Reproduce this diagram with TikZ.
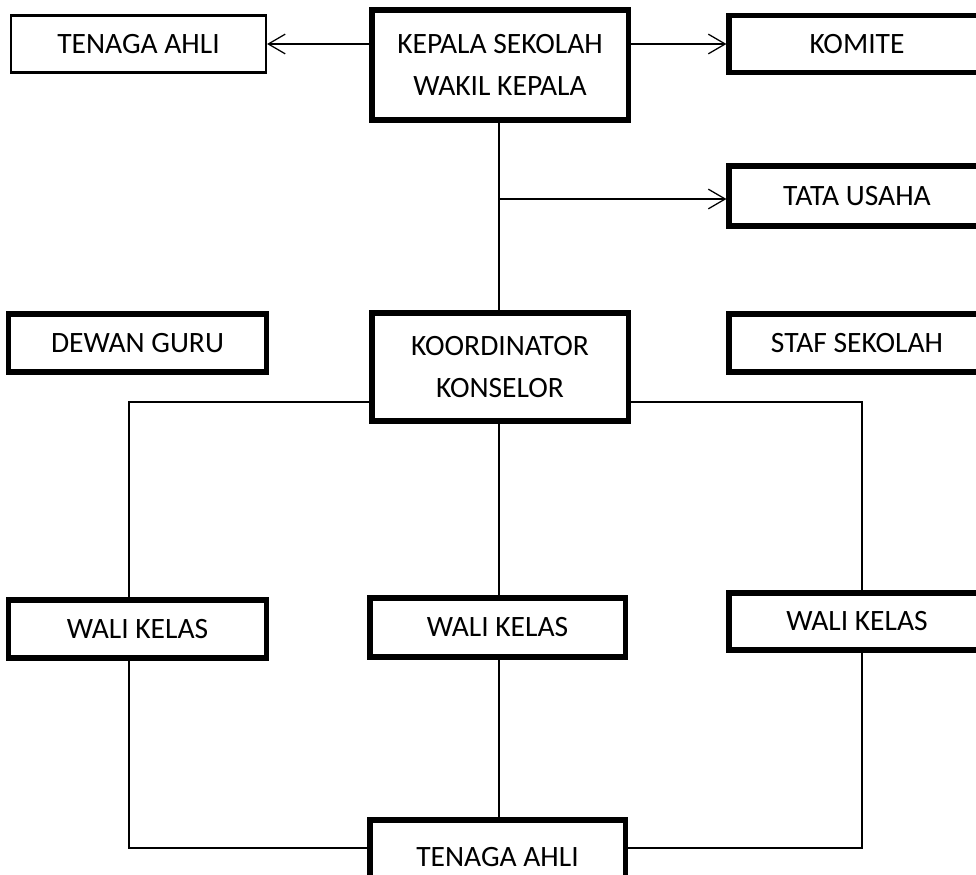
\documentclass[tikz,border=0pt]{standalone}
\usepackage{fontspec}
\setmainfont{Carlito}
\usetikzlibrary{arrows.meta, positioning}

\tikzset{
  kotak/.style={draw, line width=1.5pt, align=center, inner sep=2pt},
  kotaktebal/.style={kotak, line width=3.6pt},
  garis/.style={line width=0.9pt},
  panah/.style={garis, -{Straight Barb[length=12pt, width=14pt, line width=0.9pt]}}
}

\begin{document}
\begin{tikzpicture}[x=0.025cm, y=-0.025cm, font=\fontsize{21}{29.5}\selectfont]
    \useasboundingbox (0,0) rectangle (976,875);
    \clip (0,0) rectangle (976,875);

    % baris atas
    \node[kotak, minimum width=6.375cm, minimum height=1.425cm] (ahliatas) at (138.5,44) {TENAGA AHLI};
    \node[kotaktebal, minimum width=6.4cm, minimum height=2.75cm] (kepala) at (500,65) {KEPALA SEKOLAH\\WAKIL KEPALA};
    \node[kotaktebal, minimum width=6.4cm, minimum height=1.425cm] (komite) at (857,44) {KOMITE};
    \node[kotaktebal, minimum width=6.4cm, minimum height=1.5cm] (tatausaha) at (857,196) {TATA USAHA};

    % baris tengah
    \node[kotaktebal, minimum width=6.425cm, minimum height=1.45cm] (dewan) at (137.5,343) {DEWAN GURU};
    \node[kotaktebal, minimum width=6.4cm, minimum height=2.7cm] (koordinator) at (500,367) {KOORDINATOR\\KONSELOR};
    \node[kotaktebal, minimum width=6.4cm, minimum height=1.45cm] (staf) at (857,343) {STAF SEKOLAH};

    % wali kelas
    \node[kotaktebal, minimum width=6.425cm, minimum height=1.45cm] (walikiri) at (137.5,629) {WALI KELAS};
    \node[kotaktebal, minimum width=6.375cm, minimum height=1.475cm] (walitengah) at (497.5,627.5) {WALI KELAS};
    \node[kotaktebal, minimum width=6.4cm, minimum height=1.425cm] (walikanan) at (857,621.5) {WALI KELAS};

    \node[kotaktebal, minimum width=6.375cm, minimum height=2.0cm] (ahlibawah) at (497.5,860) {\raisebox{4.5pt}{TENAGA AHLI}};

    \coordinate (cabang) at (499,199);
    \coordinate (kiriatas) at (129,402);
    \coordinate (kananatas) at (862,402);
    \coordinate (kiribawah) at (129,848);
    \coordinate (kananbawah) at (862,848);

    \draw[panah] (kepala.west |- ahliatas) -- (ahliatas.east);
    \draw[panah] (kepala.east |- komite) -- (komite.west);
    \draw[garis] (kepala.south -| cabang) -- (koordinator.north -| cabang);
    \draw[panah] (cabang) -- (tatausaha.west |- cabang);

    \draw[garis] (koordinator.west |- kiriatas) -- (kiriatas) -- (walikiri.north -| kiriatas);
    \draw[garis] (koordinator.east |- kananatas) -- (kananatas) -- (walikanan.north -| kananatas);
    \draw[garis] (koordinator.south -| cabang) -- (walitengah.north -| cabang);

    \draw[garis] (walikiri.south -| kiribawah) -- (kiribawah) -- (ahlibawah.west |- kiribawah);
    \draw[garis] (walikanan.south -| kananbawah) -- (kananbawah) -- (ahlibawah.east |- kananbawah);
    \draw[garis] (walitengah.south -| cabang) -- (ahlibawah.north -| cabang);
\end{tikzpicture}
\end{document}
